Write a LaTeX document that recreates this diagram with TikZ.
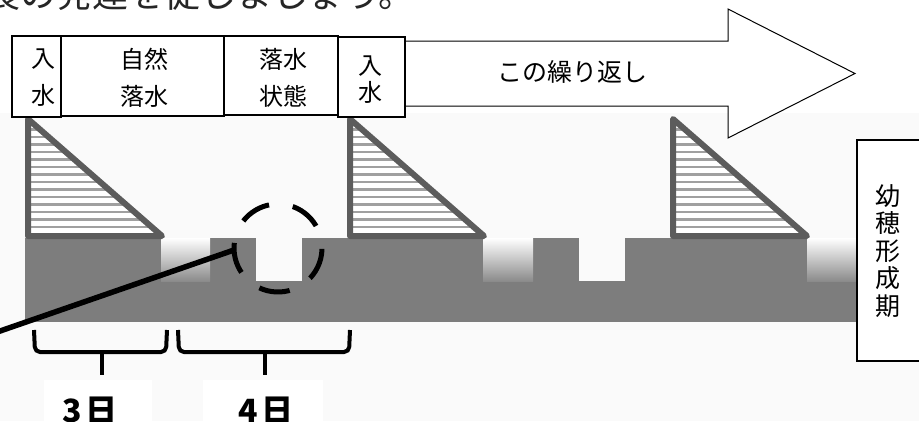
\documentclass[tikz,border=0pt]{standalone}
\usepackage{fontspec}
\newfontfamily\jp{Noto Sans CJK JP}
\usetikzlibrary{calc}
\definecolor{bandgray}{RGB}{125,125,125}
\definecolor{triline}{RGB}{92,92,92}
\definecolor{stripegray}{RGB}{160,160,160}
\definecolor{bgpale}{RGB}{250,250,250}
\newcommand\ricetri[1]{%
  \begin{scope}
    \clip (#1,119) -- (#1,236) -- (#1+134,236) -- cycle;
    \fill[white] (#1-2,110) rectangle (#1+140,240);
    \foreach \k in {0,...,14}
      \draw[stripegray, line width=2.2pt] (#1-5,122+7.5*\k) -- (#1+140,122+7.5*\k);
  \end{scope}
  \draw[triline, line width=6pt, line join=round] (#1,119) -- (#1,236) -- (#1+134,236) -- cycle;
}
\begin{document}
\begin{tikzpicture}[x=1pt,y=-1pt,
  topbox/.style={draw=black, line width=1.4pt, fill=white, inner sep=0pt},
  lbl/.style={font=\jp\fontsize{24}{37}\selectfont, align=center, inner sep=0pt},
  lbltight/.style={font=\jp\fontsize{24}{27}\selectfont, align=center, inner sep=0pt},
  daylbl/.style={font=\jp\bfseries\fontsize{32}{32}\selectfont, anchor=base, inner sep=0pt},
  bracepath/.style={line width=4pt, rounded corners=5pt},
]
\useasboundingbox (0,0) rectangle (919,421);
\clip (0,0) rectangle (919,421);
\fill[white] (0,0) rectangle (919,113);
\fill[bgpale] (0,113) rectangle (919,421);

% clipped heading
\node[anchor=base west, inner sep=0pt, font=\jp\fontsize{36}{36}\selectfont, text=black!85] (headline) at (-16,7) {長の発達を促しましょう。};

% water band
\fill[bandgray] (25,281) rectangle (856,322);
\foreach \a/\b in {25/161, 210/256, 302/483, 533/579, 625/807}
  \fill[bandgray] (\a,238) rectangle (\b,281.5);
\foreach \a/\b in {161/210, 483/533, 807/856}
  \shade[top color=white, bottom color=bandgray!90!white] (\a,238) rectangle (\b,281.5);

% triangles
\ricetri{28}
\ricetri{350}
\ricetri{673}

% repeat arrow
\draw[fill=white, line width=1pt, line join=miter] (398,41) -- (728,41) -- (728,9) -- (855,73.5) -- (728,138) -- (728,106) -- (398,106) -- cycle;
\node[font=\jp\fontsize{25}{25}\selectfont, inner sep=0pt] (rep) at (572,72) {この繰り返し};

% top boxes
\node[topbox, minimum width=49pt, minimum height=81pt] (b1) at (36.5,76.5) {};
\node[lbl] (t1) at (43,77.5) {入\\水};
\node[topbox, minimum width=163pt, minimum height=80pt] (b2) at (142.5,76) {};
\node[lbl] (t2) at (144,77.5) {自然\\落水};
\node[topbox, minimum width=114pt, minimum height=79pt] (b3) at (281,75.5) {};
\node[lbl] (t3) at (283,77.5) {落水\\状態};
\node[topbox, minimum width=67pt, minimum height=80pt] (b4) at (371.5,77) {};
\node[lbltight] (t4) at (370,79.5) {入\\水};

% right box
\node[draw=black, line width=1.6pt, fill=white, minimum width=80pt, minimum height=221pt, anchor=north west, inner sep=0pt] (rbox) at (856,139) {};
\node[font=\jp\fontsize{25}{27.5}\selectfont, align=center, inner sep=0pt] (rtext) at (888,251) {幼\\穂\\形\\成\\期};

% dashed ring and pointer line
\coordinate (ring) at (278,248);
\draw[black, line width=5pt, dash pattern=on 31pt off 24pt] ($(ring)+(3:44)$) arc[start angle=3, end angle=363, radius=44];
\coordinate (lstart) at (-10,334.5);
\coordinate (lend) at (234,250);
\draw[black, line width=5.5pt] (lstart) -- (lend);

% braces
\draw[bracepath] (34,330) -- (35,352) -- (166,352) -- (167,330);
\draw[line width=4pt] (102,351) -- (102,375);
\draw[bracepath] (178,330) -- (179,352) -- (349,352) -- (350,330);
\draw[line width=4pt] (265,351) -- (265,375);

% day labels
\fill[white] (44,380) rectangle (152,421);
\fill[white] (203,380) rectangle (323,421);
\node[daylbl] (d3) at (90,422) {3\kern3pt日};
\node[daylbl] (d4) at (266,422) {4\kern3pt日};
\end{tikzpicture}
\end{document}
